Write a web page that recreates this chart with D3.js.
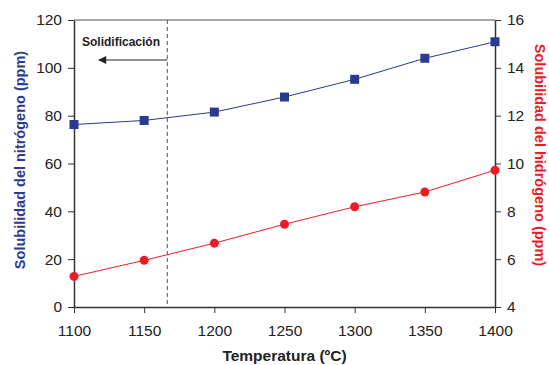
<!DOCTYPE html>
<html>
<head>
<meta charset="utf-8">
<script src="https://cdn.jsdelivr.net/npm/d3@7"></script>
<style>
  body { margin: 0; background: #fff; }
  svg { display: block; font-family: Arial, "Liberation Sans", Helvetica, sans-serif; }
</style>
</head>
<body>
<svg id="chart" width="549" height="365"></svg>
<script>
// data
const temps = [1100, 1150, 1200, 1250, 1300, 1350, 1400];
const nitrogen = [76.3, 78.0, 81.5, 87.8, 95.2, 104.0, 110.9];
const hydrogen = [5.28, 5.95, 6.67, 7.46, 8.19, 8.81, 9.72];
const solidusTemp = 1166.5;
const leftTicks = [0, 20, 40, 60, 80, 100, 120];
const rightTicks = [4, 6, 8, 10, 12, 14, 16];

const blue = "#2b3990";
const red = "#ed1c24";

const svg = d3.select("#chart");
const margin = { top: 20, right: 54, bottom: 58, left: 74 };
const width = 549 - margin.left - margin.right;
const height = 365 - margin.top - margin.bottom;

const g = svg.append("g").attr("transform", `translate(${margin.left},${margin.top})`);

const x = d3.scaleLinear().domain([1100, 1400]).range([0, width]);
const yN = d3.scaleLinear().domain([0, 120]).range([height, 0]);
const yH = d3.scaleLinear().domain([4, 16]).range([height, 0]);

// top frame line
g.append("line")
  .attr("x1", 0).attr("x2", width)
  .attr("y1", 0).attr("y2", 0)
  .attr("stroke", "#888").attr("stroke-width", 1.5);

const styleAxis = (sel) => {
  sel.select(".domain").attr("stroke", "#333").attr("stroke-width", 1.5);
  sel.selectAll(".tick line").attr("stroke", "#333").attr("stroke-width", 1);
  sel.selectAll(".tick text").attr("font-size", 15.5).attr("fill", "#222");
};

g.append("g")
  .attr("transform", `translate(0,${height})`)
  .call(d3.axisBottom(x).tickValues(temps).tickSize(6).tickSizeOuter(0).tickPadding(12).tickFormat(d3.format("d")))
  .call(styleAxis);

g.append("g")
  .call(d3.axisLeft(yN).tickValues(leftTicks).tickSize(6).tickSizeOuter(0).tickPadding(6))
  .call(styleAxis);

g.append("g")
  .attr("transform", `translate(${width},0)`)
  .call(d3.axisRight(yH).tickValues(rightTicks).tickSize(6).tickSizeOuter(0).tickPadding(6))
  .call(styleAxis);

// dashed solidification line
g.append("line")
  .attr("x1", x(solidusTemp)).attr("x2", x(solidusTemp))
  .attr("y1", 0).attr("y2", height)
  .attr("stroke", "#555").attr("stroke-width", 1)
  .attr("stroke-dasharray", "4,3");

svg.append("defs").append("marker")
  .attr("id", "arrow")
  .attr("viewBox", "0 0 10 10")
  .attr("refX", 9).attr("refY", 5)
  .attr("markerWidth", 10).attr("markerHeight", 8)
  .attr("markerUnits", "userSpaceOnUse")
  .attr("orient", "auto")
  .append("path")
  .attr("d", "M0,0 L10,5 L0,10 z")
  .attr("fill", "#222");

g.append("line")
  .attr("x1", x(solidusTemp)).attr("x2", x(1100) + 25)
  .attr("y1", 40).attr("y2", 40)
  .attr("stroke", "#222").attr("stroke-width", 1)
  .attr("marker-end", "url(#arrow)");

g.append("text")
  .attr("x", x(1100) + 8)
  .attr("y", 26)
  .attr("font-size", 12)
  .attr("font-weight", "bold")
  .attr("fill", "#222")
  .text("Solidificación");

// nitrogen series
const nData = temps.map((t, i) => ({ t, v: nitrogen[i] }));
const hData = temps.map((t, i) => ({ t, v: hydrogen[i] }));

g.append("path")
  .datum(nData)
  .attr("fill", "none")
  .attr("stroke", blue)
  .attr("stroke-width", 1)
  .attr("d", d3.line().x(d => x(d.t)).y(d => yN(d.v)));

g.selectAll("rect.n")
  .data(nData)
  .enter()
  .append("rect")
  .attr("class", "n")
  .attr("x", d => x(d.t) - 4.5)
  .attr("y", d => yN(d.v) - 4.5)
  .attr("width", 9).attr("height", 9)
  .attr("fill", blue);

// hydrogen series
g.append("path")
  .datum(hData)
  .attr("fill", "none")
  .attr("stroke", red)
  .attr("stroke-width", 1)
  .attr("d", d3.line().x(d => x(d.t)).y(d => yH(d.v)));

g.selectAll("circle.h")
  .data(hData)
  .enter()
  .append("circle")
  .attr("class", "h")
  .attr("cx", d => x(d.t))
  .attr("cy", d => yH(d.v))
  .attr("r", 4.5)
  .attr("fill", red);

// axis titles
svg.append("text")
  .attr("transform", "translate(25,160) rotate(-90)")
  .attr("text-anchor", "middle")
  .attr("font-size", 14.5)
  .attr("font-weight", "bold")
  .attr("fill", blue)
  .text("Solubilidad del nitrógeno (ppm)");

svg.append("text")
  .attr("transform", "translate(535,155) rotate(90)")
  .attr("text-anchor", "middle")
  .attr("font-size", 14.5)
  .attr("font-weight", "bold")
  .attr("fill", red)
  .text("Solubilidad del hidrógeno (ppm)");

svg.append("text")
  .attr("x", margin.left + width / 2)
  .attr("y", 361)
  .attr("text-anchor", "middle")
  .attr("font-size", 15.5)
  .attr("font-weight", "bold")
  .attr("fill", "#222")
  .text("Temperatura (ºC)");
</script>
</body>
</html>
